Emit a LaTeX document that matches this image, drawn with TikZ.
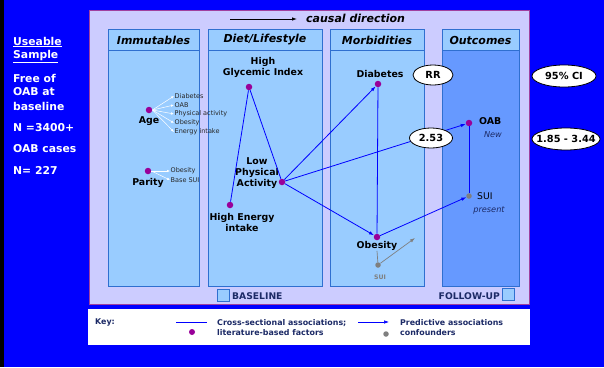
\documentclass[tikz,border=0pt]{standalone}
\usepackage{fontspec}
\setmainfont{DejaVu Sans}
\usetikzlibrary{arrows.meta,positioning,shapes.geometric}
\definecolor{bgblue}{HTML}{0000FF}
\definecolor{panel}{HTML}{CCCCFF}
\definecolor{panelrim}{HTML}{A040A0}
\definecolor{colblue}{HTML}{99CCFF}
\definecolor{outblue}{HTML}{6699FF}
\definecolor{colrim}{HTML}{2F6FD0}
\definecolor{dotpurple}{HTML}{990099}
\definecolor{keytext}{HTML}{1C2A66}
\definecolor{notegray}{HTML}{7F7F7F}
\begin{document}
\begin{tikzpicture}[x=1pt,y=-1pt,
  dot/.style={circle,fill=dotpurple,inner sep=0pt,minimum size=6.5pt},
  gdot/.style={circle,fill=notegray,inner sep=0pt,minimum size=5.5pt},
  lbl/.style={font=\bfseries\fontsize{9.4}{11}\selectfont,align=center,inner sep=0pt},
  small/.style={font=\fontsize{6.5}{7}\selectfont,text=black!85,inner sep=0.5pt,anchor=west},
  hdr/.style={font=\bfseries\itshape\fontsize{11}{12}\selectfont},
  col/.style={draw=colrim,fill=colblue,line width=0.7pt},
  assoc/.style={draw=bgblue,line width=0.8pt},
  pred/.style={assoc,-{Latex[length=5pt,width=3.5pt]}},
  oval/.style={ellipse,draw=black,fill=white,line width=0.8pt,inner sep=1pt,
    font=\bfseries\fontsize{9.8}{11}\selectfont},
  keylbl/.style={font=\bfseries\fontsize{7.9}{9.5}\selectfont,text=keytext,align=left,anchor=west,inner sep=0pt},
  side/.style={font=\bfseries\fontsize{10.8}{12}\selectfont,text=white,anchor=west,inner sep=0pt}]
  \useasboundingbox (0,0) rectangle (604,367);

  % Background
  \fill[bgblue] (0,0) rectangle (604,367);
  \fill[black] (0,0) rectangle (4,367);

  % Sample description
  \node[side] at (13,42) {\underline{Useable}};
  \node[side] at (13,57) {\underline{Sample}};
  \foreach \y/\txt in {78/Free of, 92/OAB at, 106/baseline, 128/N =3400+, 149/OAB cases, 170/N= 227}
  {
    \node[side] at (13,\y) {\txt};
  }

  % Main panel and key box
  \fill[panel, draw=panelrim, line width=0.8pt] (89,10) rectangle (529,304);
  \fill[white] (88,309) rectangle (530,345);

  % Causal direction
  \draw[-{Latex[length=5pt,width=3.5pt]}, line width=0.8pt] (230,19) -- (297,19);
  \node[hdr, anchor=west, inner sep=0pt] at (306,18) {causal direction};

  % Columns
  \foreach \xa/\xb/\name/\body in {108/199/Immutables/colblue, 208/322/Diet\slash Lifestyle/colblue,
                                   330/424/Morbidities/colblue, 442/519/Outcomes/outblue}
  {
    \draw[col, fill=\body] (\xa,50) rectangle (\xb,286);
    \draw[col] (\xa,29) rectangle (\xb,50);
    \node[hdr] at ({(\xa+\xb)/2},40) {\name};
  }

  % Immutables
  \node[dot] (age) at (149,110) {};
  \node[lbl, below=3pt of age] (aget) {Age};
  \foreach \y/\txt/\n in {96/Diabetes/a1, 105/OAB/a2, 114/Physical activity/a3, 123/Obesity/a4, 132/Energy intake/a5}
  {
    \node[small] (\n) at (174,\y) {\txt};
    \draw[white, line width=0.5pt, -{Latex[length=3pt,width=2.5pt]}] (age.east) -- (\n.west);
  }
  \node[dot] (parity) at (148,171) {};
  \node[lbl, below=3.5pt of parity] (parityt) {Parity};
  \foreach \y/\txt/\n in {171/Obesity/p1, 180/Base SUI/p2}
  {
    \node[small] (\n) at (170,\y) {\txt};
    \draw[white, line width=0.5pt, -{Latex[length=3pt,width=2.5pt]}] (parity.east) -- (\n.west);
  }

  % Diet / lifestyle
  \node[dot] (hgi) at (249,87) {};
  \node[lbl] (hgit) at (263,67) {High\\Glycemic Index};
  \node[dot] (lpa) at (282,182) {};
  \node[lbl] (lpat) at (257,173) {Low\\Physical\\Activity};
  \node[dot] (hei) at (230,205) {};
  \node[lbl] (heit) at (242,222) {High Energy\\intake};

  % Morbidities
  \node[dot] (diab) at (378,84) {};
  \node[lbl] (diabt) at (380,74) {Diabetes};
  \node[dot] (obes) at (377,237) {};
  \node[lbl] (obest) at (377,246) {Obesity};
  \node[gdot] (suib) at (378,265) {};
  \node[font=\bfseries\fontsize{6.2}{7}\selectfont, text=notegray, inner sep=0pt] (suibt) at (380,277) {SUI};
  \coordinate (suiend) at (415,238);

  % Outcomes
  \node[dot] (oab) at (469,123) {};
  \node[lbl, anchor=west] (oabt) at (479,121) {OAB};
  \node[font=\itshape\fontsize{8.2}{9}\selectfont, text=keytext, inner sep=0pt] (newt) at (493,135) {New};
  \node[gdot] (suio) at (469,196) {};
  \node[font=\fontsize{9.2}{10}\selectfont, anchor=west, inner sep=0pt] (suiot) at (477,196) {SUI};
  \node[font=\itshape\fontsize{8.2}{9}\selectfont, text=keytext, inner sep=0pt] (presentt) at (489,210) {present};

  % Associations
  \draw[assoc] (hgi) -- (lpa);
  \draw[assoc] (hgi) -- (hei);
  \draw[assoc] (diab) -- (obes);
  \draw[assoc] (oab) -- (suio);
  \draw[pred] (lpa) -- (diab);
  \draw[pred] (lpa) -- (oab);
  \draw[pred] (lpa) -- (obes);
  \draw[pred] (obes) -- (suio);
  \draw[notegray, line width=0.7pt] (suib) -- (obest.south);
  \draw[notegray, line width=0.7pt, -{Latex[length=5pt,width=3.5pt]}] (suib) -- (suiend);

  % Relative risk
  \node[oval, minimum width=40pt, minimum height=20pt] (rr) at (433,75) {RR};
  \node[oval, minimum width=64pt, minimum height=22pt, inner xsep=-5pt] (ci) at (564,76) {95\% CI};
  \node[oval, minimum width=43pt, minimum height=20pt, inner xsep=-2pt] (rrval) at (431,138) {2.53};
  \node[oval, minimum width=68pt, minimum height=22pt, inner xsep=-9pt] (cival) at (566,139) {1.85 - 3.44};

  % Baseline / follow-up
  \draw[col] (217,289) rectangle (229,301);
  \node[font=\bfseries\fontsize{9.2}{10}\selectfont, text=keytext, anchor=west, inner sep=0pt] (basel) at (232,296) {BASELINE};
  \draw[col] (502,288) rectangle (514,300);
  \node[font=\bfseries\fontsize{9.2}{10}\selectfont, text=keytext, anchor=east, inner sep=0pt] (follow) at (500,296) {FOLLOW-UP};

  % Key
  \node[keylbl] (key) at (95,322) {Key:};
  \coordinate (k1a) at (176,322);
  \coordinate (k1b) at (207,322);
  \draw[assoc] (k1a) -- (k1b);
  \node[dot, minimum size=6pt] (kdot) at (192,332) {};
  \node[keylbl] (kcross) at (217,327.5) {Cross-sectional associations;\\literature-based factors};
  \coordinate (k2a) at (358,322);
  \coordinate (k2b) at (389,322);
  \draw[pred, line width=0.6pt] (k2a) -- (k2b);
  \node[gdot] (kgdot) at (386,334) {};
  \node[keylbl] (kpred) at (400,327.5) {Predictive associations\\confounders};
\end{tikzpicture}
\end{document}
